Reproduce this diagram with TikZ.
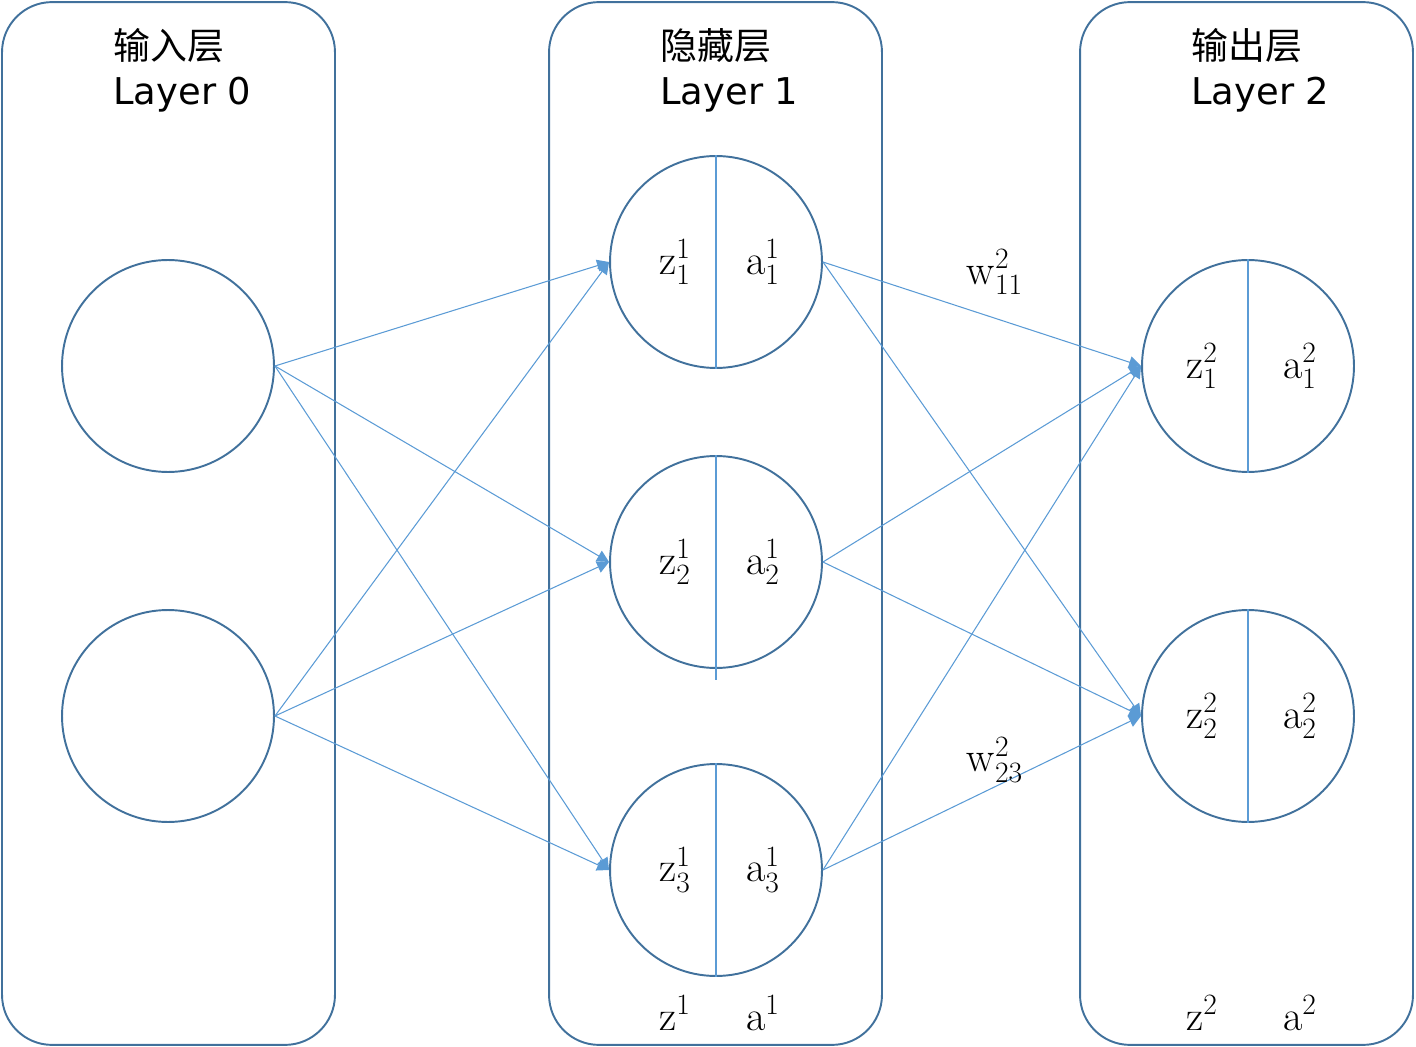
\RequirePackage{fix-cm}
\documentclass[tikz,border=0pt]{standalone}
\usepackage{fontspec}
\usepackage{xcolor}
\usepackage{tikz}
\usetikzlibrary{arrows.meta, positioning}
\newfontfamily\headfont{DejaVu Sans}
\newfontfamily\cjkfont{Noto Sans CJK SC}
\definecolor{boxline}{HTML}{41719C}
\definecolor{linkblue}{HTML}{5B9BD5}
\newcommand{\nv}[3]{$\mathrm{#1}^{\mathrm{#2}}_{\mathrm{#3}}$}

\begin{document}
\begin{tikzpicture}[
  x=0.02cm, y=-0.02cm,
  layerbox/.style={rectangle, draw=boxline, line width=1.1pt, rounded corners=1cm, minimum width=6.66cm, minimum height=20.86cm, inner sep=0pt},
  neuron/.style={circle, draw=boxline, line width=1.1pt, minimum size=4.24cm, inner sep=0pt},
  split/.style={draw=linkblue, line width=0.6pt},
  link/.style={draw=linkblue, line width=0.6pt, -{Triangle[length=2.4mm, width=2.4mm]}},
  head/.style={anchor=west, inner sep=0pt, align=left, font=\headfont\fontsize{21}{25.5}\selectfont},
  val/.style={inner sep=0pt, font=\fontsize{24}{28}\selectfont}
]
  \useasboundingbox (0,0) rectangle (1416,1047);
  % layers
  \node[layerbox] (input) at (168.5,523.5) {};
  \node[layerbox] (hidden) at (715.5,523.5) {};
  \node[layerbox] (output) at (1246.5,523.5) {};
  \node[head] (inputT) at (113,70) {{\cjkfont 输入层}\\Layer 0};
  \node[head] (hiddenT) at (660,70) {{\cjkfont 隐藏层}\\Layer 1};
  \node[head] (outputT) at (1191,70) {{\cjkfont 输出层}\\Layer 2};
  % neurons
  \node[neuron] (in1) at (168,366) {};
  \node[neuron] (in2) at (168,716) {};
  \foreach \i/\y in {1/262, 2/562, 3/870} {
    \node[neuron] (h\i) at (716,\y) {};
    \draw[split] (h\i.north) -- (h\i.south);
    \node[val] (hz\i) at (675,\y) {\nv{z}{1}{\i}};
    \node[val] (ha\i) at (763,\y) {\nv{a}{1}{\i}};
  }
  \draw[split] (h2.south) -- ++(0,11);
  \foreach \i/\y in {1/366, 2/716} {
    \node[neuron] (out\i) at (1248,\y) {};
    \draw[split] (out\i.north) -- (out\i.south);
    \node[val] (oz\i) at (1202,\y) {\nv{z}{2}{\i}};
    \node[val] (oa\i) at (1300,\y) {\nv{a}{2}{\i}};
  }
  % connections
  \foreach \i in {1,2}
    \foreach \j in {1,2,3}
      \draw[link] (in\i.east) -- (h\j.west);
  \foreach \j in {1,2,3}
    \foreach \k in {1,2}
      \draw[link] (h\j.east) -- (out\k.west);
  % weights and layer vectors
  \node[val] (w11) at (995,272) {\nv{w}{2}{11}};
  \node[val] (w23) at (995,760) {\nv{w}{2}{23}};
  \node[val] (zh) at (675,1018) {\nv{z}{1}{}};
  \node[val] (ah) at (763,1018) {\nv{a}{1}{}};
  \node[val] (zo) at (1202,1018) {\nv{z}{2}{}};
  \node[val] (ao) at (1300,1018) {\nv{a}{2}{}};
\end{tikzpicture}
\end{document}
